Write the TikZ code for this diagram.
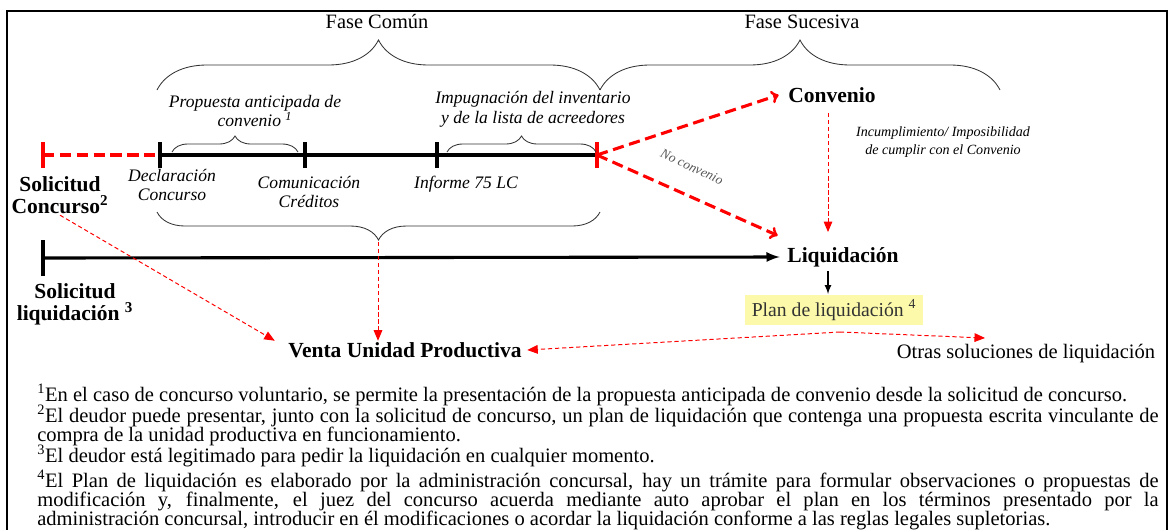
\documentclass[tikz,border=0pt]{standalone}
\usepackage{fontspec}
\setmainfont{Liberation Serif}
\usetikzlibrary{arrows,positioning,decorations.pathreplacing}

\definecolor{hilite}{RGB}{252,250,170}
\definecolor{notegray}{RGB}{85,85,85}

\tikzset{
  boldlbl/.style={font=\fontsize{15.3}{15.5}\selectfont\bfseries, align=center, inner sep=1pt},
  itlbl/.style={font=\fontsize{12.5}{14}\selectfont\itshape, align=center, inner sep=1pt},
  faselbl/.style={font=\fontsize{14.5}{15}\selectfont, inner sep=1pt},
  bracestyle/.style={decorate, decoration={brace, amplitude=#1}, line width=0.6pt, black!80},
  tick/.style={line width=2.2pt},
  redtick/.style={line width=2.2pt, red},
  redthick/.style={line width=2.2pt, red, dash pattern=on 8pt off 4pt},
  reddash/.style={line width=0.7pt, red, dash pattern=on 3pt off 2pt, -triangle 45},
  fnote/.style={font=\fontsize{14.6}{13.5}\selectfont, text width=28.025cm, align=justify, inner sep=0pt}
}

\begin{document}
\begin{tikzpicture}[x=0.025cm, y=-0.025cm]
  \useasboundingbox (0,0) rectangle (1169,529);

  % frame
  \draw[line width=1.2pt] (7,560) -- (7,11) -- (1167,11) -- (1167,560);

  % phases
  \node[faselbl] (fasecomun) at (377,22) {Fase Común};
  \node[faselbl] (fasesuc) at (802,22) {Fase Sucesiva};
  \draw[bracestyle=1.25cm] (157,90) -- (600,90);
  \draw[bracestyle=1.25cm] (600,90) -- (1000,90);

  % timeline
  \coordinate (t0) at (43,155);
  \coordinate (t1) at (160,155);
  \coordinate (t2) at (305,155);
  \coordinate (t3) at (437,155);
  \coordinate (t4) at (597,155);
  \draw[redthick] (t0) -- (t1);
  \draw[tick] (t1) -- (t4);
  \foreach \p in {t1,t2,t3}
    \draw[tick] ([yshift=-13*0.025cm]\p) -- ([yshift=13*0.025cm]\p);
  \foreach \p in {t0,t4}
    \draw[redtick] ([yshift=-13*0.025cm]\p) -- ([yshift=13*0.025cm]\p);

  \draw[bracestyle=0.4cm] (172,152) -- (298,152);
  \draw[bracestyle=0.4cm] (447,152) -- (596,152);
  \draw[bracestyle=0.7cm] (600,212) -- (157,212);
  \coordinate (bracetip) at (378,242);

  \node[itlbl] (propuesta) at (255,111) {Propuesta anticipada de\\convenio \textsuperscript{1}};
  \node[itlbl] (impugna) at (533,109) {Impugnación del inventario\\y de la lista de acreedores};
  \node[itlbl] (declara) at (172,185) {Declaración\\Concurso};
  \node[itlbl] (comunica) at (309,192) {Comunicación\\Créditos};
  \node[itlbl] (informe) at (466,184) {Informe 75 LC};
  \node[boldlbl] (solconc) at (60,195) {Solicitud\\Concurso\textsuperscript{2}};

  % fase sucesiva
  \node[boldlbl] (convenio) at (832,95) {Convenio};
  \node[boldlbl] (liquida) at (843,257) {Liquidación};
  \draw[redthick, ->] (t4) -- ([xshift=-8*0.025cm]convenio.west);
  \draw[redthick, ->] (t4) -- ([xshift=-8*0.025cm, yshift=10*0.025cm]liquida.north west);
  \node[font=\fontsize{9.5}{10}\selectfont\itshape, text=notegray, rotate=-25, inner sep=0pt] (noconv) at (692,167) {No convenio};
  \coordinate (convdown) at (828,113);
  \draw[reddash] (convdown) -- (828,232);
  \node[font=\fontsize{10}{12.8}\selectfont\itshape, align=center] (incumple) at (943,142)
    {Incumplimiento/ Imposibilidad\\de cumplir con el Convenio};

  % liquidacion
  \draw[tick] (43,240) -- (43,276);
  \draw[tick, -latex] (43,258) -- ([xshift=-6*0.025cm]liquida.west);
  \node[boldlbl] (solliq) at (75,304) {Solicitud\\liquidación \textsuperscript{3}};
  \node[font=\fontsize{14}{15}\selectfont, text=black!80, fill=hilite, inner xsep=5pt,
    minimum height=0.65cm] (plan) at (834,310) {Plan de liquidación \textsuperscript{4}};
  \draw[line width=1.2pt, -latex] (828,271) -- (828,294);
  \node[boldlbl] (venta) at (405,350) {Venta Unidad Productiva};
  \node[font=\fontsize{14.6}{15}\selectfont, inner sep=1pt] (otras) at (1026,354) {Otras soluciones de liquidación};
  \coordinate (plansplit) at (840,332);
  \draw[reddash] (solconc.south) -- ([xshift=-12*0.025cm]venta.north west);
  \draw[reddash] (bracetip) -- (bracetip |- venta.north);
  \draw[reddash] (plansplit) -- ([xshift=4*0.025cm]venta.east);
  \draw[reddash] (plansplit) -- (985,338);

  % notes
  \node[fnote, anchor=north west] (notes) at (37,384) {%
    \lineskiplimit=-8pt\relax\parskip=0pt\relax
    \textsuperscript{1}En el caso de concurso voluntario, se permite la presentación de la propuesta anticipada de convenio desde la solicitud de concurso.\par\vspace{1.5pt}
    \textsuperscript{2}El deudor puede presentar, junto con la solicitud de concurso, un plan de liquidación que contenga una propuesta escrita vinculante de\linebreak compra de la unidad productiva en funcionamiento.\par\vspace{1.5pt}
    \textsuperscript{3}El deudor está legitimado para pedir la liquidación en cualquier momento.\par\vspace{1.5pt}
    \textsuperscript{4}El Plan de liquidación es elaborado por la administración concursal, hay un trámite para formular observaciones o propuestas de\linebreak modificación y, finalmente, el juez del concurso acuerda mediante auto aprobar el plan en los términos presentado por la\linebreak administración concursal, introducir en él modificaciones o acordar la liquidación conforme a las reglas legales supletorias.};
\end{tikzpicture}
\end{document}
